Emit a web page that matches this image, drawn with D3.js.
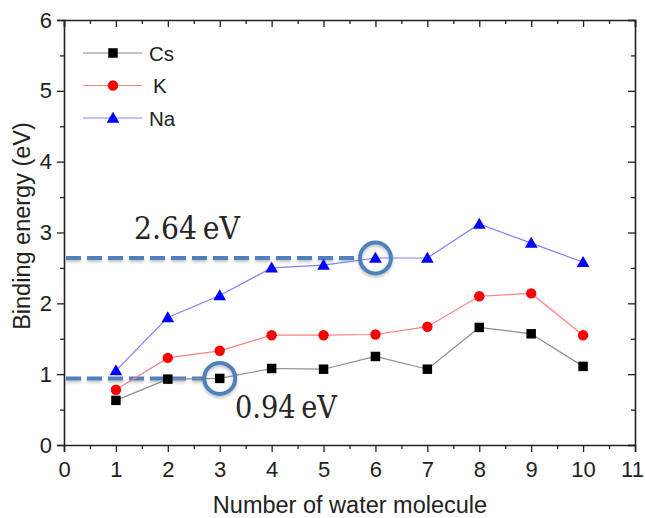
<!DOCTYPE html>
<html><head><meta charset="utf-8">
<script src="https://cdnjs.cloudflare.com/ajax/libs/d3/7.8.5/d3.min.js"></script>
<style>body{margin:0;background:#fff}svg{display:block}</style>
</head><body>
<svg id="chart" width="645" height="518"></svg>
<script>
// Binding energy of alkali atoms vs. number of attached water molecules
const waterCount = [1, 2, 3, 4, 5, 6, 7, 8, 9, 10];
const csEnergy = [0.63, 0.93, 0.94, 1.08, 1.07, 1.25, 1.07, 1.66, 1.57, 1.11];
const kEnergy  = [0.78, 1.23, 1.33, 1.55, 1.55, 1.56, 1.67, 2.10, 2.14, 1.55];
const naEnergy = [1.05, 1.80, 2.11, 2.50, 2.54, 2.64, 2.64, 3.12, 2.85, 2.58];
const xTicks = [0, 1, 2, 3, 4, 5, 6, 7, 8, 9, 10, 11];
const yTicks = [0, 1, 2, 3, 4, 5, 6];
const seriesNames = ["Cs", "K", "Na"];
// highlighted points: series index, water count, value, label
const callouts = [
  {series: 2, n: 6, value: 2.64, label: "2.64\u2009eV"},
  {series: 0, n: 3, value: 0.94, label: "0.94\u2009eV"}
];

const svg = d3.select("#chart");
const pLeft = 64, pRight = 635, pTop = 20, pBottom = 445;
const x = d3.scaleLinear().domain([0, 11]).range([pLeft, pRight]);
const y = d3.scaleLinear().domain([0, 6]).range([pBottom, pTop]);

// soft drop shadow for the highlight shapes (user-space region so flat lines keep it)
const defs = svg.append("defs");
const f = defs.append("filter").attr("id", "shadow").attr("filterUnits", "userSpaceOnUse")
  .attr("x", 0).attr("y", 0).attr("width", 645).attr("height", 518);
f.append("feDropShadow").attr("dx", 0).attr("dy", 2).attr("stdDeviation", 1.5)
  .attr("flood-color", "#000").attr("flood-opacity", 0.25);

const font = "'Liberation Sans', Arial, sans-serif";

// axes: bottom/left ticks outward, top/right mirrored inward
const minor = d3.range(0.5, 11, 1);
const yMinor = d3.range(0.5, 6, 1);
const gx = svg.append("g").attr("transform", `translate(0,${pBottom})`)
  .call(d3.axisBottom(x).tickValues(xTicks).tickFormat(d3.format("d")).tickSize(7).tickPadding(9));
svg.append("g").attr("transform", `translate(0,${pBottom})`)
  .call(d3.axisBottom(x).tickValues(minor).tickFormat("").tickSize(4)).select(".domain").remove();
svg.append("g").attr("transform", `translate(${pLeft},0)`)
  .call(d3.axisLeft(y).tickValues(yTicks).tickFormat(d3.format("d")).tickSize(7).tickPadding(5));
svg.append("g").attr("transform", `translate(${pLeft},0)`)
  .call(d3.axisLeft(y).tickValues(yMinor).tickFormat("").tickSize(4)).select(".domain").remove();
svg.append("g").attr("transform", `translate(0,${pTop})`)
  .call(d3.axisBottom(x).tickValues(xTicks).tickFormat("").tickSize(7));
svg.append("g").attr("transform", `translate(0,${pTop})`)
  .call(d3.axisBottom(x).tickValues(minor).tickFormat("").tickSize(4)).select(".domain").remove();
svg.append("g").attr("transform", `translate(${pRight},0)`)
  .call(d3.axisLeft(y).tickValues(yTicks).tickFormat("").tickSize(7));
svg.append("g").attr("transform", `translate(${pRight},0)`)
  .call(d3.axisLeft(y).tickValues(yMinor).tickFormat("").tickSize(4)).select(".domain").remove();
svg.selectAll(".domain").attr("stroke", "#222").attr("stroke-width", 1.6);
svg.selectAll(".tick line").attr("stroke", "#222").attr("stroke-width", 1.3);
svg.selectAll(".tick text").attr("font-family", font).attr("font-size", 22).attr("fill", "#222");
// keep the last x label inside the page edge
gx.selectAll(".tick text").filter(d => d === 11).attr("dx", -3);

svg.append("text").attr("x", 350).attr("y", 513)
  .attr("text-anchor", "middle").attr("font-family", font).attr("font-size", 23.5).attr("fill", "#222")
  .text("Number of water molecule");
svg.append("text").attr("transform", `translate(30,226) rotate(-90)`)
  .attr("text-anchor", "middle").attr("font-family", font).attr("font-size", 23.5).attr("fill", "#222")
  .text("Binding energy (eV)");

// series styles
const series = [
  {name: seriesNames[0], values: csEnergy, line: "#8c8c8c", mark: "#000", symbol: d3.symbolSquare, size: 90},
  {name: seriesNames[1], values: kEnergy, line: "#ff8080", mark: "#f00", symbol: d3.symbolCircle, size: 85},
  {name: seriesNames[2], values: naEnergy, line: "#8080ff", mark: "#00f", symbol: d3.symbolTriangle, size: 70}
];
const lineGen = d3.line().x((d, i) => x(waterCount[i])).y(d => y(d));

// dashed guide lines from the y axis to the highlighted points
const blue = "#4f81bd";
callouts.forEach(c => {
  const cx = x(c.n), cy = y(c.value);
  svg.append("line").attr("x1", x(0) + 2).attr("x2", cx - 16).attr("y1", cy).attr("y2", cy)
    .attr("stroke", blue).attr("stroke-width", 4).attr("stroke-dasharray", "15,6")
    .attr("filter", "url(#shadow)");
});

series.forEach(s => {
  svg.append("path").datum(s.values).attr("d", lineGen)
    .attr("fill", "none").attr("stroke", s.line).attr("stroke-width", 1.2);
  svg.append("g").selectAll("path").data(s.values).join("path")
    .attr("transform", (d, i) => `translate(${x(waterCount[i])},${y(d) + (s.symbol === d3.symbolTriangle ? 1 : 0)})`)
    .attr("d", d3.symbol().type(s.symbol).size(s.size)).attr("fill", s.mark);
});

// ring around each highlighted point
callouts.forEach(c => {
  svg.append("circle").attr("cx", x(c.n)).attr("cy", y(c.value)).attr("r", 15.5)
    .attr("fill", "none").attr("stroke", blue).attr("stroke-width", 4).attr("filter", "url(#shadow)");
});
const serif = "'DejaVu Serif', serif";
svg.append("text").attr("x", 134).attr("y", 239).text(callouts[0].label)
  .attr("font-family", serif).attr("font-size", 31).attr("fill", "#262626")
  .attr("textLength", 106).attr("lengthAdjust", "spacingAndGlyphs");
svg.append("text").attr("x", 235).attr("y", 418).text(callouts[1].label)
  .attr("font-family", serif).attr("font-size", 31).attr("fill", "#262626")
  .attr("textLength", 102).attr("lengthAdjust", "spacingAndGlyphs");

// legend
const leg = svg.append("g");
series.forEach((s, i) => {
  const ly = 53 + i * 32.5;
  leg.append("line").attr("x1", 83).attr("x2", 142).attr("y1", ly).attr("y2", ly)
    .attr("stroke", s.line).attr("stroke-width", 1.2);
  leg.append("path").attr("transform", `translate(113,${ly + (s.symbol === d3.symbolTriangle ? 1 : 0)})`)
    .attr("d", d3.symbol().type(s.symbol).size(s.size)).attr("fill", s.mark);
  leg.append("text").attr("x", i === 1 ? 153 : 149).attr("y", ly + 7.5).text(s.name)
    .attr("font-family", font).attr("font-size", 20.5).attr("fill", "#222");
});
</script>
</body></html>
